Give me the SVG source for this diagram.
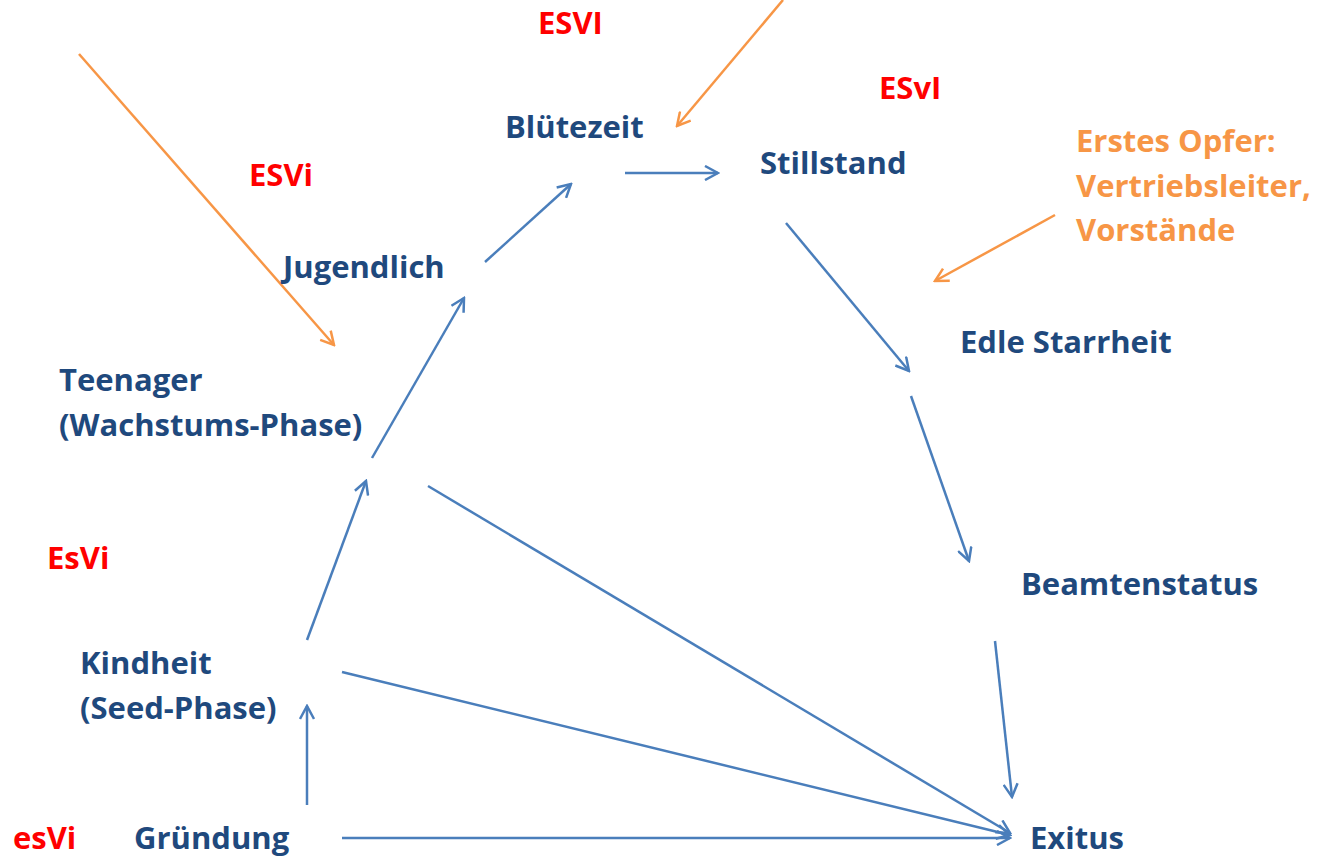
<svg xmlns="http://www.w3.org/2000/svg" width="1319" height="858" viewBox="0 0 1319 858">
<defs>
<marker id="ab" markerWidth="16" markerHeight="16" refX="14" refY="8" orient="auto" markerUnits="userSpaceOnUse"><path d="M1,1 L14,8 L1,15" fill="none" stroke="#4A7EBB" stroke-width="2.5"/></marker>
<marker id="ao" markerWidth="16" markerHeight="16" refX="14" refY="8" orient="auto" markerUnits="userSpaceOnUse"><path d="M1,1 L14,8 L1,15" fill="none" stroke="#F79646" stroke-width="2.5"/></marker>
<style>
text{font-family:"Open Sans",Lato,"Liberation Sans",sans-serif;font-weight:bold;font-size:31px}
.n{fill:#1F497D}
.r{fill:#FF0000}
.o{fill:#F79646}
.cb{stroke:#4A7EBB;stroke-width:2.5;fill:none;marker-end:url(#ab)}
.co{stroke:#F79646;stroke-width:2.5;fill:none;marker-end:url(#ao)}
</style>
</defs>
<rect width="1319" height="858" fill="#fff"/>
<g id="connectors">
<line class="cb" x1="307" y1="805" x2="307" y2="706"/>
<line class="cb" x1="342" y1="838" x2="1010" y2="838"/>
<line class="cb" x1="342" y1="672" x2="1010" y2="835"/>
<line class="cb" x1="307" y1="640" x2="366" y2="481"/>
<line class="cb" x1="428" y1="486" x2="1010" y2="833"/>
<line class="cb" x1="372" y1="458" x2="464" y2="298"/>
<line class="cb" x1="485" y1="262" x2="571" y2="184"/>
<line class="cb" x1="625" y1="173" x2="718" y2="173"/>
<line class="cb" x1="786" y1="223" x2="909" y2="371"/>
<line class="cb" x1="911" y1="396" x2="969" y2="561"/>
<line class="cb" x1="995" y1="641" x2="1012" y2="797"/>
<line class="co" x1="79" y1="54" x2="334" y2="345"/>
<line class="co" x1="783" y1="0" x2="677" y2="126"/>
<line class="co" x1="1055" y1="215" x2="935" y2="281"/>
</g>
<g id="gruendung"><text class="n" x="134" y="849">Gründung</text></g>
<g id="kindheit"><text class="n" x="80" y="674">Kindheit</text><text class="n" x="80" y="719">(Seed-Phase)</text></g>
<g id="teenager"><text class="n" x="59" y="391">Teenager</text><text class="n" x="59" y="436">(Wachstums-Phase)</text></g>
<g id="jugendlich"><text class="n" x="283" y="278">Jugendlich</text></g>
<g id="bluetezeit"><text class="n" x="505" y="138">Blütezeit</text></g>
<g id="stillstand"><text class="n" x="760" y="174">Stillstand</text></g>
<g id="edle"><text class="n" x="960" y="353">Edle Starrheit</text></g>
<g id="beamten"><text class="n" x="1021" y="595">Beamtenstatus</text></g>
<g id="exitus"><text class="n" x="1030" y="849">Exitus</text></g>
<g id="opfer"><text class="o" x="1076" y="152">Erstes Opfer:</text><text class="o" x="1076" y="197">Vertriebsleiter,</text><text class="o" x="1076" y="241">Vorstände</text></g>
<g id="labels">
<text class="r" x="538" y="34">ESVI</text>
<text class="r" x="879" y="99">ESvI</text>
<text class="r" x="249" y="186">ESVi</text>
<text class="r" x="47" y="569">EsVi</text>
<text class="r" x="13" y="849">esVi</text>
</g>
</svg>
